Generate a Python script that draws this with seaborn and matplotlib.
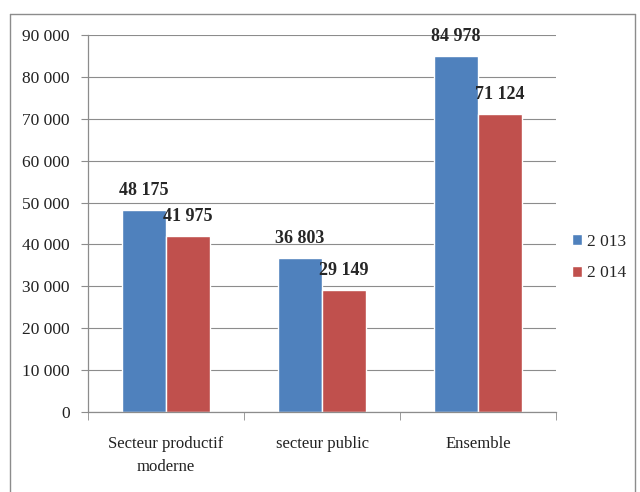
import numpy as np
import pandas as pd
import matplotlib
matplotlib.use("Agg")
import matplotlib.pyplot as plt
import seaborn as sns
from matplotlib.ticker import FuncFormatter

categories = ["Secteur productif\nmoderne", "secteur public", "Ensemble"]
years = ["2 013", "2 014"]
values_2013 = [48175, 36803, 84978]
values_2014 = [41975, 29149, 71124]
palette = ["#4F81BD", "#C0504D"]

df = pd.DataFrame({
    "cat": categories * 2,
    "year": [years[0]] * 3 + [years[1]] * 3,
    "val": values_2013 + values_2014,
})

sns.set_style("white")
plt.rcParams["font.family"] = ["Liberation Serif", "DejaVu Serif"]

fig = plt.figure(figsize=(6.4, 4.92), dpi=100)
ax = fig.add_axes([0.1375, 0.1626, 0.7313, 0.7663])

sns.barplot(data=df, x="cat", y="val", hue="year", palette=palette,
            width=0.56, saturation=1, ax=ax, order=categories,
            hue_order=years, legend=True)

ax.set_ylim(0, 90000)
ax.set_xlim(-0.5, 2.5)
ax.set_yticks(np.arange(0, 90001, 10000))
ax.yaxis.set_major_formatter(FuncFormatter(lambda v, p: f"{int(v):,}".replace(",", " ")))
ax.grid(axis="y", color="#8c8c8c", linewidth=0.8)
ax.set_axisbelow(True)
ax.set_xlabel("")
ax.set_ylabel("")
ax.tick_params(axis="y", labelsize=12.5, length=5, color="#8c8c8c", left=True,
               pad=8, labelcolor="#222222")
ax.tick_params(axis="x", labelsize=12, length=0, pad=17, labelcolor="#222222")
for t in ax.get_xticklabels():
    t.set_linespacing(1.6)
ax.set_xticks([-0.5, 0.5, 1.5, 2.5], minor=True)
ax.tick_params(axis="x", which="minor", length=6, color="#8c8c8c", bottom=True)
for s in ["top", "right"]:
    ax.spines[s].set_visible(False)
for s in ["left", "bottom"]:
    ax.spines[s].set_color("#8c8c8c")
    ax.spines[s].set_linewidth(0.9)

# value labels
for cont, vals in zip(ax.containers, [values_2013, values_2014]):
    ax.bar_label(cont, labels=[f"{v:,}".replace(",", " ") for v in vals],
                 padding=8, fontsize=13, fontweight="bold")

leg = ax.legend(loc="center left", bbox_to_anchor=(1.0, 0.41), frameon=False,
                fontsize=12.5, handlelength=0.6, handleheight=0.6,
                handletextpad=0.3, labelspacing=0.9)

# outer frame
for xs, ys in [([0.0156, 0.0156], [0, 0.9715]), ([0.0156, 0.992], [0.9715, 0.9715]),
               ([0.992, 0.992], [0, 0.9715])]:
    fig.add_artist(plt.Line2D(xs, ys, color="#8c8c8c", linewidth=1.0,
                              transform=fig.transFigure))

fig.savefig("out.png", dpi=100)
